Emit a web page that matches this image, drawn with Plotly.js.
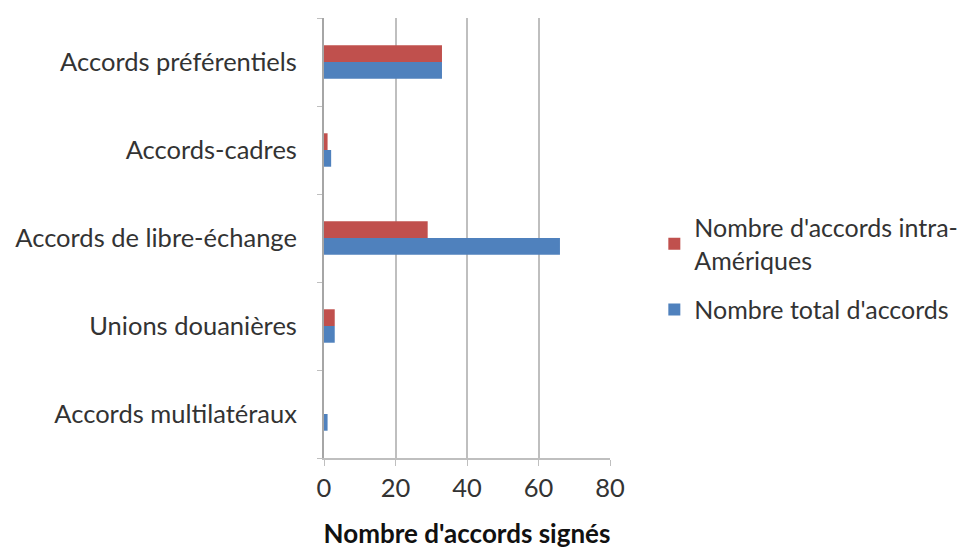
<!DOCTYPE html>
<html>
<head>
<meta charset="utf-8">
<script src="https://cdn.plot.ly/plotly-3.0.1.min.js"></script>
<style>html,body{margin:0;padding:0;background:#fff;}#chart{width:965px;height:550px;}</style>
</head>
<body>
<div id="chart"></div>
<script>
// Categories listed bottom to top, as Plotly stacks a category axis upward
const categories = [
  "Accords multilatéraux",
  "Unions douanières",
  "Accords de libre-échange",
  "Accords-cadres",
  "Accords préférentiels"
];
const totalAccords = [1, 3, 66, 2, 33];
const intraAmeriques = [0, 3, 29, 1, 33];
const xTicks = [0, 20, 40, 60, 80];

const font = "Lato, 'Open Sans', sans-serif";
const fs = 25.5;

const traces = [
  {
    type: "bar",
    orientation: "h",
    name: "Nombre total d'accords",
    legendgroup: "total",
    legendrank: 2,
    y: categories,
    x: totalAccords,
    marker: {color: "#4F81BD"},
    hoverinfo: "x+y"
  },
  {
    type: "bar",
    orientation: "h",
    name: "Nombre d'accords intra-<br>Amériques",
    legendgroup: "intra",
    legendrank: 1,
    y: categories,
    x: intraAmeriques,
    marker: {color: "#C0504D"},
    hoverinfo: "x+y"
  }
];

const layout = {
  width: 965,
  height: 550,
  margin: {l: 324, r: 355, t: 18, b: 92, autoexpand: false},
  paper_bgcolor: "#fff",
  plot_bgcolor: "#fff",
  barmode: "group",
  bargap: 0.62,
  bargroupgap: 0,
  font: {family: font, size: fs, color: "#333"},
  xaxis: {
    range: [0, 80],
    tickvals: xTicks,
    ticktext: xTicks.map(String),
    showgrid: true,
    gridcolor: "#BFBFBF",
    gridwidth: 2,
    zeroline: false,
    showline: true,
    linecolor: "#BFBFBF",
    linewidth: 2,
    ticks: "outside",
    ticklen: 6,
    tickcolor: "#BFBFBF",
    tickfont: {family: font, size: fs, color: "#333"},
    title: {text: "<b>Nombre d'accords signés</b>", font: {family: font, size: 26, color: "#111"}, standoff: 24}
  },
  yaxis: {
    type: "category",
    showgrid: false,
    showline: true,
    linecolor: "#A6A6A6",
    linewidth: 2,
    ticks: "outside",
    tickson: "boundaries",
    ticklen: 5,
    tickcolor: "#BFBFBF",
    ticklabelstandoff: 20,
    tickfont: {family: font, size: fs, color: "#333"},
    automargin: false
  },
  showlegend: true,
  legend: {
    x: 1.155,
    xanchor: "left",
    y: 0.43,
    yanchor: "middle",
    traceorder: "grouped",
    font: {family: font, size: 25, color: "#333"},
    itemwidth: 30,
    tracegroupgap: 14
  }
};

Plotly.newPlot("chart", traces, layout, {displayModeBar: false, staticPlot: true});
</script>
</body>
</html>
